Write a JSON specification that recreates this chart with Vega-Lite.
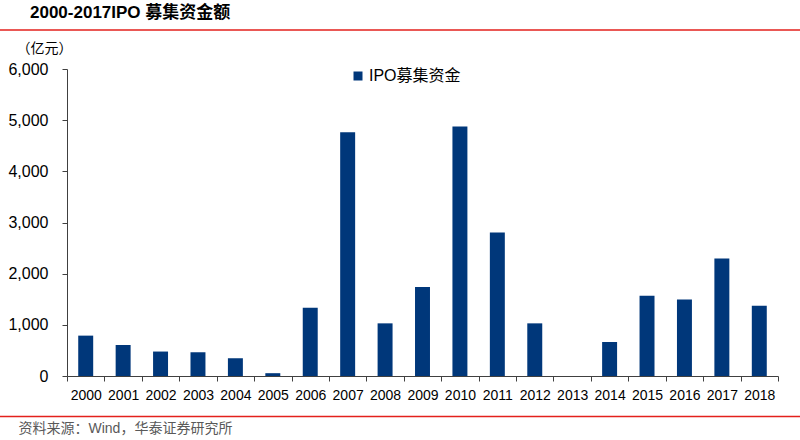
{
  "$schema": "https://vega.github.io/schema/vega-lite/v6.json",
  "width": 711,
  "height": 307,
  "autosize": "none",
  "padding": {"left": 67, "top": 69, "right": 22, "bottom": 64},
  "background": "white",
  "config": {
    "view": {"stroke": null},
    "font": "Liberation Sans, Noto Sans CJK SC"
  },
  "title": {
    "text": "2000-2017IPO 募集资金额",
    "anchor": "start",
    "frame": "group",
    "font": "Liberation Sans, Noto Sans CJK SC",
    "fontSize": 17,
    "fontWeight": "bold",
    "color": "#000000",
    "dx": -37,
    "dy": 3,
    "offset": 10
  },
  "resolve": {"scale": {"x": "independent", "y": "independent"}},
  "layer": [
    {
      "data": {
        "values": [
          {"year": "2000", "amount": 789},
          {"year": "2001", "amount": 606},
          {"year": "2002", "amount": 478},
          {"year": "2003", "amount": 464},
          {"year": "2004", "amount": 347},
          {"year": "2005", "amount": 55},
          {"year": "2006", "amount": 1335},
          {"year": "2007", "amount": 4766},
          {"year": "2008", "amount": 1029},
          {"year": "2009", "amount": 1737},
          {"year": "2010", "amount": 4874},
          {"year": "2011", "amount": 2804},
          {"year": "2012", "amount": 1029},
          {"year": "2013", "amount": 0},
          {"year": "2014", "amount": 665},
          {"year": "2015", "amount": 1569},
          {"year": "2016", "amount": 1497},
          {"year": "2017", "amount": 2296},
          {"year": "2018", "amount": 1374}
        ]
      },
      "mark": {"type": "bar", "width": {"band": 0.4}},
      "encoding": {
        "x": {
          "field": "year",
          "type": "ordinal",
          "scale": {"paddingInner": 0, "paddingOuter": 0},
          "axis": {
            "title": "资料来源：Wind，华泰证券研究所",
            "titleX": -49,
            "titleY": 52,
            "titleAlign": "left",
            "titleBaseline": "middle",
            "titleFontSize": 14,
            "titleFontWeight": "normal",
            "titleColor": "#595959",
            "labelAngle": 0,
            "labelFontSize": 14,
            "labelColor": "#000000",
            "labelPadding": 7,
            "tickBand": "extent",
            "tickSize": 5,
            "tickColor": "#404040",
            "domainColor": "#404040"
          }
        },
        "y": {
          "field": "amount",
          "type": "quantitative",
          "scale": {"domain": [0, 6000], "nice": false},
          "axis": {
            "values": [0, 1000, 2000, 3000, 4000, 5000, 6000],
            "format": ",d",
            "grid": false,
            "title": "（亿元）",
            "titleAngle": 0,
            "titleX": -23,
            "titleY": -21,
            "titleAlign": "center",
            "titleBaseline": "middle",
            "titleFontSize": 14,
            "titleFontWeight": "normal",
            "titleColor": "#000000",
            "labelFontSize": 16,
            "labelColor": "#000000",
            "labelPadding": 14,
            "tickSize": 5,
            "tickColor": "#404040",
            "domainColor": "#404040"
          }
        },
        "color": {
          "datum": "IPO募集资金",
          "scale": {"range": ["#00377a"]},
          "legend": {
            "title": null,
            "orient": "none",
            "legendX": 283,
            "legendY": -1,
            "padding": 0,
            "symbolType": "square",
            "symbolSize": 81,
            "symbolStrokeWidth": 0,
            "labelFontSize": 16,
            "labelColor": "#000000",
            "labelOffset": 3
          }
        }
      }
    },
    {
      "data": {"values": [{}]},
      "mark": {"type": "rule", "color": "#e3211c", "strokeWidth": 1.5},
      "encoding": {
        "x": {"datum": -0.0943, "type": "quantitative", "scale": {"domain": [0, 1], "nice": false, "zero": false}, "axis": null},
        "x2": {"datum": 1.032},
        "y": {"datum": 6764, "type": "quantitative", "scale": {"domain": [0, 6000], "nice": false}, "axis": null}
      }
    },
    {
      "data": {"values": [{}]},
      "mark": {"type": "rule", "color": "#e3211c", "strokeWidth": 1.5},
      "encoding": {
        "x": {"datum": -0.0943, "type": "quantitative", "scale": {"domain": [0, 1], "nice": false, "zero": false}, "axis": null},
        "x2": {"datum": 1.032},
        "y": {"datum": -790, "type": "quantitative", "scale": {"domain": [0, 6000], "nice": false}, "axis": null}
      }
    }
  ]
}
